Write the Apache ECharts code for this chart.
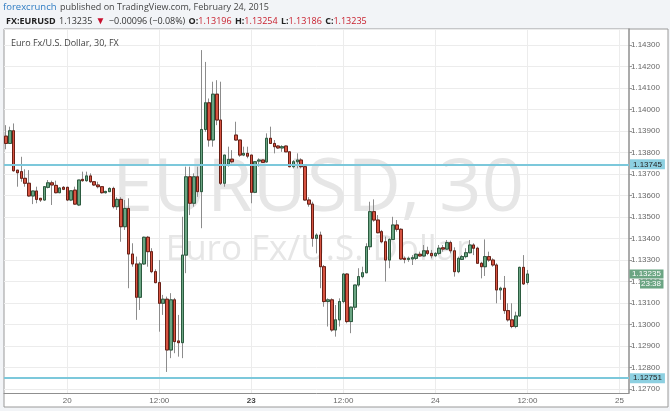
<!DOCTYPE html>
<html><head><meta charset="utf-8">
<script src="https://cdn.jsdelivr.net/npm/echarts@6/dist/echarts.min.js"></script>
<style>html,body{margin:0;padding:0;background:#f2f4f7;}#c{width:670px;height:411px;}</style>
</head><body><div id="c"></div>
<script>
const opens = [1.13876,1.13842,1.13901,1.13718,1.13711,1.13680,1.13657,1.13598,1.13621,1.13587,
1.13579,1.13638,1.13659,1.13647,1.13613,1.13638,1.13638,1.13579,1.13625,1.13556,
1.13675,1.13669,1.13691,1.13664,1.13649,1.13641,1.13613,1.13618,1.13633,1.13548,
1.13582,1.13455,1.13540,1.13328,1.13282,1.13127,1.13282,1.13406,1.13339,1.13246,
1.13195,1.13099,1.13118,1.12882,1.13115,1.12924,1.12916,1.13323,1.13687,1.13564,
1.13687,1.13618,1.13907,1.14031,1.13858,1.14071,1.13951,1.13657,1.13746,1.13769,
1.13881,1.13858,1.13788,1.13796,1.13788,1.13615,1.13760,1.13765,1.13756,1.13866,
1.13842,1.13830,1.13821,1.13830,1.13803,1.13734,1.13757,1.13765,1.13734,1.13579,
1.13560,1.13401,1.13416,1.13269,1.13107,1.13115,1.12975,1.13022,1.13107,1.13235,
1.13014,1.13081,1.13184,1.13223,1.13241,1.13362,1.13525,1.13486,1.13432,1.13385,
1.13300,1.13396,1.13463,1.13443,1.13308,1.13303,1.13305,1.13308,1.13327,1.13319,
1.13343,1.13331,1.13320,1.13331,1.13357,1.13351,1.13381,1.13343,1.13246,1.13303,
1.13316,1.13334,1.13370,1.13355,1.13285,1.13269,1.13316,1.13300,1.13277,1.13161,
1.13169,1.13065,1.13022,1.12991,1.13040,1.13266,1.13196];
const closes = [1.13842,1.13901,1.13715,1.13706,1.13680,1.13657,1.13598,1.13621,1.13582,1.13579,
1.13641,1.13659,1.13649,1.13613,1.13635,1.13629,1.13579,1.13622,1.13560,1.13672,
1.13669,1.13691,1.13664,1.13649,1.13641,1.13613,1.13619,1.13633,1.13548,1.13582,
1.13455,1.13540,1.13328,1.13282,1.13127,1.13282,1.13406,1.13339,1.13246,1.13195,
1.13099,1.13118,1.12882,1.13115,1.12921,1.12916,1.13323,1.13687,1.13564,1.13687,
1.13618,1.13907,1.14031,1.13858,1.14071,1.13951,1.13657,1.13788,1.13768,1.13757,
1.13858,1.13788,1.13796,1.13783,1.13615,1.13757,1.13765,1.13754,1.13866,1.13842,
1.13827,1.13821,1.13827,1.13803,1.13734,1.13757,1.13765,1.13734,1.13579,1.13560,
1.13401,1.13416,1.13269,1.13107,1.13115,1.12975,1.13022,1.13107,1.13235,1.13014,
1.13081,1.13184,1.13223,1.13241,1.13362,1.13525,1.13486,1.13427,1.13385,1.13300,
1.13396,1.13463,1.13443,1.13305,1.13303,1.13308,1.13311,1.13327,1.13319,1.13343,
1.13331,1.13320,1.13331,1.13355,1.13351,1.13381,1.13343,1.13246,1.13308,1.13316,
1.13334,1.13370,1.13355,1.13285,1.13269,1.13316,1.13300,1.13277,1.13161,1.13169,
1.13065,1.13022,1.12991,1.13040,1.13266,1.13189,1.13235];
const lows = [1.13815,1.13841,1.13711,1.13641,1.13664,1.13641,1.13594,1.13560,1.13564,1.13570,
1.13576,1.13633,1.13556,1.13610,1.13611,1.13625,1.13574,1.13574,1.13556,1.13551,
1.13664,1.13664,1.13659,1.13644,1.13633,1.13609,1.13609,1.13616,1.13540,1.13533,
1.13385,1.13440,1.13169,1.13269,1.13022,1.13068,1.13277,1.13269,1.13239,1.13192,
1.12967,1.13045,1.12780,1.12844,1.12867,1.12851,1.12844,1.13239,1.13509,1.13548,
1.13594,1.13448,1.13896,1.13827,1.13827,1.13927,1.13649,1.13641,1.13734,1.13750,
1.13855,1.13780,1.13783,1.13773,1.13564,1.13611,1.13734,1.13751,1.13753,1.13841,
1.13796,1.13816,1.13803,1.13802,1.13731,1.13726,1.13726,1.13726,1.13576,1.13548,
1.13362,1.13331,1.13169,1.13083,1.12991,1.12967,1.12944,1.12991,1.13099,1.13006,
1.12960,1.13068,1.13176,1.13215,1.13239,1.13347,1.13478,1.13424,1.13378,1.13200,
1.13262,1.13393,1.13432,1.13300,1.13285,1.13292,1.13277,1.13300,1.13316,1.13316,
1.13323,1.13308,1.13314,1.13323,1.13339,1.13347,1.13331,1.13223,1.13239,1.13300,
1.13308,1.13331,1.13323,1.13282,1.13215,1.13226,1.13292,1.13269,1.13099,1.13115,
1.13050,1.13014,1.12983,1.12983,1.13037,1.13184,1.13186];
const highs = [1.13927,1.13920,1.13935,1.13718,1.13780,1.13722,1.13718,1.13621,1.13641,1.13588,
1.13644,1.13672,1.13669,1.13669,1.13639,1.13644,1.13641,1.13625,1.13641,1.13672,
1.13711,1.13711,1.13703,1.13667,1.13664,1.13644,1.13622,1.13638,1.13641,1.13592,
1.13592,1.13579,1.13587,1.13378,1.13316,1.13292,1.13409,1.13412,1.13355,1.13257,
1.13300,1.13138,1.13130,1.13146,1.13124,1.13045,1.13501,1.13734,1.13734,1.13703,
1.13734,1.14276,1.14221,1.14051,1.14129,1.14136,1.14129,1.13788,1.13827,1.13811,
1.13943,1.13858,1.13827,1.13827,1.13788,1.13760,1.13773,1.13767,1.13889,1.13920,
1.13858,1.13834,1.13834,1.13832,1.13803,1.13765,1.13796,1.13773,1.13734,1.13592,
1.13571,1.13424,1.13432,1.13277,1.13122,1.13122,1.13091,1.13122,1.13239,1.13239,
1.13083,1.13184,1.13262,1.13269,1.13378,1.13571,1.13582,1.13509,1.13440,1.13409,
1.13401,1.13501,1.13486,1.13448,1.13316,1.13316,1.13323,1.13331,1.13339,1.13370,
1.13362,1.13347,1.13337,1.13370,1.13370,1.13393,1.13390,1.13359,1.13316,1.13323,
1.13355,1.13393,1.13378,1.13362,1.13292,1.13396,1.13339,1.13308,1.13285,1.13176,
1.13226,1.13099,1.13099,1.13060,1.13269,1.13323,1.13254];
const levelLines = [1.13745, 1.12751];
const yMin = 1.12682, yMax = 1.14374;
const countdown = '23:38';

// 30-minute slots, FX weekend skipped
const startTime = Date.UTC(2015, 1, 19, 16, 0);
const weekendClose = Date.UTC(2015, 1, 20, 22, 0);
const slotCount = 163;
const times = [];
for (let i = 0; i < slotCount; i++) {
  let t = startTime + i * 1800000;
  if (t >= weekendClose) t += 48 * 3600000;
  times.push(t);
}
const categories = times.map(String);
function isMark(t) { const d = new Date(+t); return d.getUTCMinutes() === 0 && (d.getUTCHours() === 0 || d.getUTCHours() === 12); }

const candleData = opens.map((o, i) => [o, closes[i], lows[i], highs[i]]);
const bodyData = opens.map((o, i) => [o, closes[i], Math.min(o, closes[i]), Math.max(o, closes[i])]);
const last = closes.length - 1;
const lastClose = closes[last];

const chart = echarts.init(document.getElementById('c'), null, {renderer: 'canvas'});
const F = '"Open Sans", sans-serif';
const AF = 'Arial, "Liberation Sans", sans-serif';
chart.setOption({
  animation: false,
  backgroundColor: '#f2f4f7',
  grid: {left: 4, right: 41, top: 29, bottom: 18, containLabel: false, outerBoundsMode: 'none'},
  xAxis: {
    type: 'category', data: categories, boundaryGap: true,
    axisLine: {show: true, lineStyle: {color: '#8f8f8f', width: 1}},
    axisTick: {show: false},
    axisLabel: {
      interval: (i, v) => isMark(v), margin: 4,
      color: '#666', fontSize: 8, fontFamily: AF,
      formatter: v => { const d = new Date(+v); if (d.getUTCHours() === 12) return '12:00'; const day = String(d.getUTCDate()); return d.getUTCDay() === 1 ? '{b|' + day + '}' : day; },
      rich: {b: {fontWeight: 'bold', color: '#444', fontSize: 8, fontFamily: AF}}
    },
    splitLine: {show: true, interval: (i, v) => isMark(v), alignWithLabel: true, lineStyle: {color: '#ececec', width: 1}}
  },
  yAxis: {
    type: 'value', position: 'right', min: yMin, max: yMax, splitNumber: 17,
    axisLine: {show: true, lineStyle: {color: '#8f8f8f', width: 1.5}},
    axisTick: {show: true, length: 3, lineStyle: {color: '#999'}},
    axisLabel: {show: true, margin: 2, color: '#666', fontSize: 8, fontFamily: AF,
      showMinLabel: false, showMaxLabel: false, formatter: v => v.toFixed(5)},
    splitLine: {show: true, lineStyle: {color: '#ececec', width: 1}}
  },
  graphic: [
    {id: 'frame', type: 'rect', z: -10, shape: {x: 4, y: 29, width: 664, height: 378}, style: {fill: '#ffffff', stroke: '#9a9a9a', lineWidth: 1}},
    {id: 'wm1', type: 'text', z: 1, style: {text: 'EURUSD, 30', x: 318, y: 190, align: 'center', verticalAlign: 'middle', font: '74px ' + F, fill: '#e6e6e6'}},
    {id: 'wm2', type: 'text', z: 1, style: {text: 'Euro Fx/U.S. Dollar', x: 318, y: 250, align: 'center', verticalAlign: 'middle', font: '35px ' + F, fill: '#e6e6e6'}},
    {id: 'sym', type: 'text', z: 5, style: {text: 'Euro Fx/U.S. Dollar, 30, FX', x: 11, y: 43, verticalAlign: 'middle', font: '9px ' + F, fill: '#444'}},
    {id: 'h1', type: 'text', z: 5, style: {
      text: '{b|forexcrunch} {g|published on TradingView.com, February 24, 2015}', x: 3, y: 7, verticalAlign: 'middle',
      rich: {b: {fill: '#2f7cc3', font: '9.5px ' + F}, g: {fill: '#444', font: '9px ' + F}}}},
    {id: 'h2', type: 'text', z: 5, style: {
      text: '{k|FX:EURUSD} {n|1.13235} {r|\u25BC} {n|\u22120.00096 (\u22120.08%)} {k|O:}{v|1.13196} {k|H:}{v|1.13254} {k|L:}{v|1.13186} {k|C:}{v|1.13235}',
      x: 6, y: 21, verticalAlign: 'middle',
      rich: {k: {fill: '#222', font: 'bold 9px ' + F}, n: {fill: '#333', font: '9px ' + F}, r: {fill: '#c8102e', font: '10px ' + F}, v: {fill: '#c8202e', font: '9px ' + F}}}}
  ],
  series: [
    {
      type: 'candlestick', name: 'wick', data: candleData, barWidth: 3, z: 2,
      itemStyle: {color: '#8c8c8c', color0: '#8c8c8c', borderColor: '#8c8c8c', borderColor0: '#8c8c8c', borderWidth: 1}
    },
    {
      type: 'candlestick', name: 'body', data: bodyData, barWidth: 3, z: 3,
      itemStyle: {color: '#6ba583', color0: '#d75442', borderColor: '#2b5b3f', borderColor0: '#6a1f15', borderWidth: 1},
      markLine: {
        symbol: 'none', silent: true, precision: 5,
        lineStyle: {color: '#7cc8db', width: 2, type: 'solid'},
        label: {show: true, position: 'end', distance: 1, formatter: p => Number(p.value).toFixed(5),
          color: '#222', fontSize: 8, fontFamily: AF,
          backgroundColor: '#8dd0e1', padding: [1, 3, 1, 3]},
        data: levelLines.map(v => ({yAxis: v}))
      }
    }
  ]
});

const py = chart.convertToPixel({yAxisIndex: 0}, lastClose);
chart.setOption({graphic: [
  {id: 'pbox', type: 'rect', z: 6, shape: {x: 629.5, y: py - 4.5, width: 34, height: 9}, style: {fill: '#6ba583'}},
  {id: 'ptxt', type: 'text', z: 7, style: {text: lastClose.toFixed(5), x: 632, y: py, verticalAlign: 'middle', fill: '#fff', font: '8px ' + AF}},
  {id: 'cbox', type: 'rect', z: 6, shape: {x: 640, y: py + 5.5, width: 23.5, height: 9}, style: {fill: '#6ba583'}},
  {id: 'ctxt', type: 'text', z: 7, style: {text: countdown, x: 661, y: py + 10, align: 'right', verticalAlign: 'middle', fill: '#fff', font: '8px ' + AF}}
]});
</script></body></html>
